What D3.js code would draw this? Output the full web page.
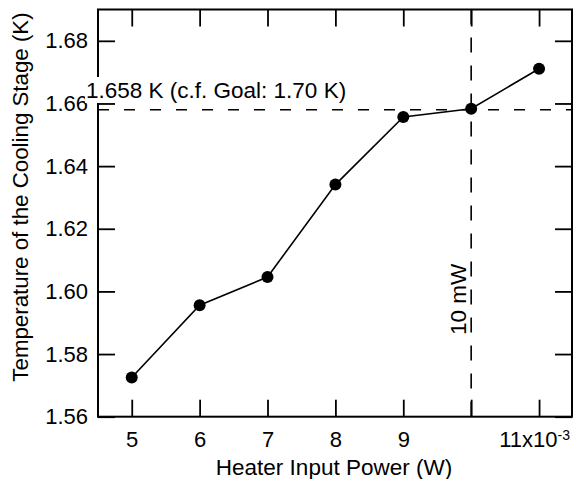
<!DOCTYPE html>
<html>
<head>
<meta charset="utf-8">
<script src="https://cdn.jsdelivr.net/npm/d3@7"></script>
<style>
body { margin: 0; background: #fff; }
svg { display: block; }
text { font-family: "Liberation Sans", Arial, sans-serif; fill: #000; }
</style>
</head>
<body>
<svg width="573" height="479"></svg>
<script>
// heater power in units of 1e-3 W
var power = [5, 6, 7, 8, 9, 10, 11];
var temperature = [1.5725, 1.5956, 1.6046, 1.6341, 1.6557, 1.6583, 1.6711];
var xTicks = [5, 6, 7, 8, 9, 10, 11];
var yTicks = [1.56, 1.58, 1.60, 1.62, 1.64, 1.66, 1.68];
var refTemp = 1.658;
var refPower = 10;
var refTempLabel = "1.658 K (c.f. Goal: 1.70 K)";
var refPowerLabel = "10 mW";

var svg = d3.select("svg");
var plotLeft = 98, plotRight = 572, plotTop = 9.5, plotBottom = 416.7;

var x = d3.scaleLinear().domain([4.5, 11.5]).range([97.8, 573]);
var y = d3.scaleLinear().domain([1.56, 1.69]).range([plotBottom, plotTop]);

function styleAxis(g)
{
    g.select(".domain").remove();
    g.selectAll(".tick line").attr("stroke", "#000").attr("stroke-width", 1.8);
    g.selectAll(".tick text").style("font-size", "22px").attr("fill", "#000");
}

// bottom axis
var gx = svg.append("g")
    .attr("transform", "translate(0," + plotBottom + ")")
    .call(d3.axisBottom(x).tickValues(xTicks).tickSize(-17).tickPadding(15)
        .tickFormat(function(d)
        {
            if (d === 10) return "";
            return d;
        }));
styleAxis(gx);
// last label carries the 10^-3 multiplier; nudge it in so it isn't clipped
gx.selectAll(".tick text").filter(function(d) { return d === 11; })
    .attr("dx", -5)
    .text("11x10")
    .append("tspan")
    .attr("dy", "-0.55em")
    .style("font-size", "14px")
    .text("-3");

// top axis, ticks only
var gxt = svg.append("g")
    .attr("transform", "translate(0," + plotTop + ")")
    .call(d3.axisTop(x).tickValues(xTicks).tickSize(-17).tickFormat(""));
styleAxis(gxt);

// left axis
var gy = svg.append("g")
    .attr("transform", "translate(" + plotLeft + ",0)")
    .call(d3.axisLeft(y).tickValues(yTicks).tickSize(-17).tickPadding(10)
        .tickFormat(d3.format(".2f")));
styleAxis(gy);

// right axis, ticks only
var gyr = svg.append("g")
    .attr("transform", "translate(" + plotRight + ",0)")
    .call(d3.axisRight(y).tickValues(yTicks).tickSize(-17).tickFormat(""));
styleAxis(gyr);

// frame
svg.append("rect")
    .attr("x", plotLeft).attr("y", plotTop)
    .attr("width", plotRight - plotLeft).attr("height", plotBottom - plotTop)
    .attr("fill", "none").attr("stroke", "#000").attr("stroke-width", 2);

// reference lines
svg.append("line")
    .attr("x1", plotLeft).attr("x2", plotRight)
    .attr("y1", y(refTemp)).attr("y2", y(refTemp))
    .attr("stroke", "#000").attr("stroke-width", 1.3)
    .attr("stroke-dasharray", "11,15");

svg.append("line")
    .attr("x1", x(refPower)).attr("x2", x(refPower))
    .attr("y1", plotTop).attr("y2", plotBottom)
    .attr("stroke", "#000").attr("stroke-width", 1.6)
    .attr("stroke-dasharray", "15,13");

// data
var pts = power.map(function(p, i) { return [p, temperature[i]]; });

svg.append("path")
    .datum(pts)
    .attr("fill", "none")
    .attr("stroke", "#000")
    .attr("stroke-width", 1.6)
    .attr("d", d3.line()
        .x(function(d) { return x(d[0]); })
        .y(function(d) { return y(d[1]); }));

svg.selectAll("circle.pt")
    .data(pts)
    .enter().append("circle")
    .attr("class", "pt")
    .attr("cx", function(d) { return x(d[0]); })
    .attr("cy", function(d) { return y(d[1]); })
    .attr("r", 6)
    .attr("fill", "#000");

// annotation with white box behind it
var ann = svg.append("g");
var annBox = ann.append("rect").attr("fill", "#fff");
var annText = ann.append("text")
    .attr("x", 86)
    .attr("y", 98)
    .style("font-size", "22.5px")
    .text(refTempLabel);
var bb = annText.node().getBBox();
annBox.attr("x", bb.x - 1).attr("y", 77)
    .attr("width", bb.width + 2).attr("height", 26);

svg.append("text")
    .attr("transform", "translate(465.5,335) rotate(-90)")
    .style("font-size", "22.5px")
    .text(refPowerLabel);

// axis titles
svg.append("text")
    .attr("transform", "translate(28,197) rotate(-90)")
    .attr("text-anchor", "middle")
    .style("font-size", "22.3px")
    .text("Temperature of the Cooling Stage (K)");

svg.append("text")
    .attr("x", 334)
    .attr("y", 475)
    .attr("text-anchor", "middle")
    .style("font-size", "22.5px")
    .text("Heater Input Power (W)");
</script>
</body>
</html>
